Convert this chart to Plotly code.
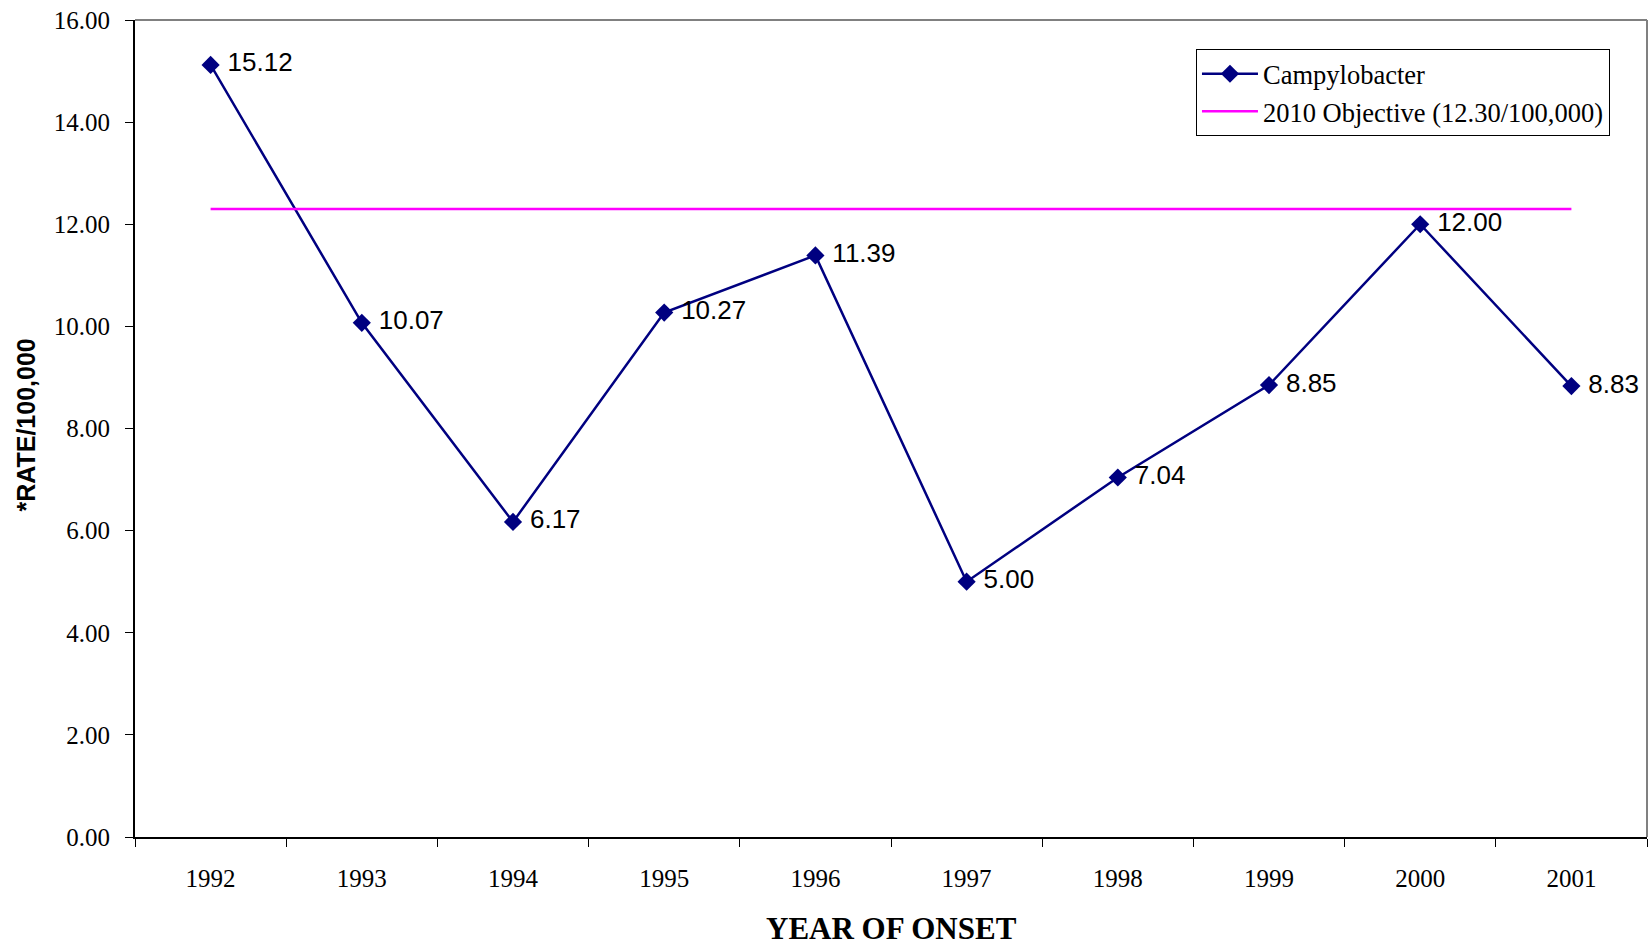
"""Campylobacter rate by year of onset, with the 2010 objective line"""

import plotly.graph_objects as go

years = ["1992", "1993", "1994", "1995", "1996", "1997", "1998", "1999", "2000", "2001"]
rates = [15.12, 10.07, 6.17, 10.27, 11.39, 5.00, 7.04, 8.85, 12.00, 8.83]
objective = 12.30
y_ticks = [0, 2, 4, 6, 8, 10, 12, 14, 16]

SERIF = "Liberation Serif, Times New Roman, serif"
SANS = "Liberation Sans, Arial, sans-serif"


def main():
    fig = go.Figure()

    fig.add_trace(
        go.Scatter(
            x=years,
            y=rates,
            name="Campylobacter",
            mode="lines+markers+text",
            line=dict(color="#000080", width=2.5),
            marker=dict(symbol="diamond", size=14, color="#000080"),
            # nbsp pads the label away from the marker, like the original
            text=["\u00a0" + f"{v:.2f}" for v in rates],
            textposition="middle right",
            textfont=dict(family=SANS, size=26, color="black"),
        )
    )
    # objective line runs from first to last year
    fig.add_trace(
        go.Scatter(
            x=[years[0], years[-1]],
            y=[objective, objective],
            name="2010 Objective (12.30/100,000)",
            mode="lines",
            line=dict(color="#FF00FF", width=2.5),
        )
    )

    fig.update_layout(
        width=1650,
        height=945,
        margin=dict(l=135, r=3, t=20, b=108),
        paper_bgcolor="white",
        plot_bgcolor="white",
        font=dict(family=SERIF, size=25, color="black"),
        legend=dict(
            x=0.7017,
            y=0.9645,
            xanchor="left",
            yanchor="top",
            bordercolor="black",
            borderwidth=1,
            bgcolor="white",
            font=dict(family=SERIF, size=26.5, color="black"),
            itemwidth=56,
            tracegroupgap=0,
        ),
        xaxis=dict(
            type="category",
            range=[-0.5, 9.5],
            tickson="boundaries",
            ticks="outside",
            ticklen=8,
            tickcolor="black",
            showline=True,
            linecolor="black",
            linewidth=2,
            showgrid=False,
            zeroline=False,
            automargin=False,
            ticklabelstandoff=18,
            tickfont=dict(family=SERIF, size=25),
        ),
        yaxis=dict(
            range=[0, 16],
            tickvals=y_ticks,
            ticktext=[f"{v:.2f}" for v in y_ticks],
            ticks="outside",
            ticklen=8,
            tickcolor="black",
            showline=True,
            linecolor="black",
            linewidth=2,
            showgrid=False,
            zeroline=False,
            automargin=False,
            ticklabelstandoff=10,
            tickfont=dict(family=SERIF, size=25),
        ),
        showlegend=True,
    )

    # top and right plot-area border in gray
    fig.add_shape(type="line", xref="paper", yref="paper", x0=0, x1=1, y0=1, y1=1,
                  line=dict(color="#808080", width=2))
    fig.add_shape(type="line", xref="paper", yref="paper", x0=1, x1=1, y0=0, y1=1,
                  line=dict(color="#808080", width=2))

    fig.add_annotation(
        text="<b>YEAR OF ONSET</b>",
        xref="paper", yref="paper", x=0.5, y=0,
        xanchor="center", yanchor="middle", yshift=-91,
        showarrow=False,
        font=dict(family=SERIF, size=31, color="black"),
    )
    fig.add_annotation(
        text="<b>*RATE/100,000</b>",
        xref="paper", yref="paper", x=0, y=0.5,
        xanchor="center", yanchor="middle", xshift=-110, yshift=3,
        textangle=-90,
        showarrow=False,
        font=dict(family=SANS, size=25, color="black"),
    )

    # drop the default page margin so the figure sits at the window corner
    fig.write_html(
        "out.html",
        config={"displayModeBar": False},
        post_script="document.body.style.margin='0';document.body.style.overflow='hidden';",
    )


if __name__ == "__main__":
    main()
